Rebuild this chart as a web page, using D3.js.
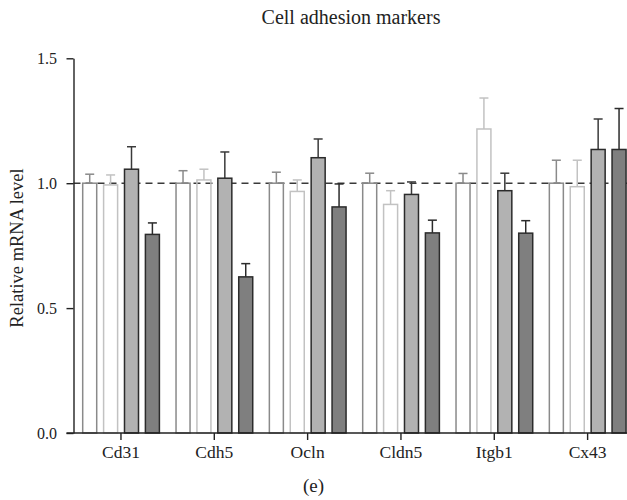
<!DOCTYPE html>
<html>
<head>
<meta charset="utf-8">
<script src="https://cdn.jsdelivr.net/npm/d3@7"></script>
<style>
  html, body { margin: 0; padding: 0; background: #fff; }
</style>
</head>
<body>
<svg id="chart" width="627" height="500"></svg>
<script>
// Genes measured
const categories = ["Cd31", "Cdh5", "Ocln", "Cldn5", "Itgb1", "Cx43"];
// Four experimental groups, one bar each per gene
const seriesNames = ["g1", "g2", "g3", "g4"];
// Mean relative mRNA level
const g1Values = [1.00, 1.00, 1.00, 1.00, 1.00, 1.00];
const g2Values = [0.993, 1.013, 0.967, 0.915, 1.217, 0.986];
const g3Values = [1.056, 1.020, 1.102, 0.955, 0.970, 1.135];
const g4Values = [0.795, 0.625, 0.905, 0.801, 0.800, 1.135];
// Upper error (SEM)
const g1Errors = [0.036, 0.050, 0.044, 0.040, 0.039, 0.092];
const g2Errors = [0.040, 0.043, 0.046, 0.055, 0.124, 0.106];
const g3Errors = [0.090, 0.105, 0.075, 0.050, 0.070, 0.122];
const g4Errors = [0.046, 0.053, 0.092, 0.051, 0.050, 0.164];
const yTicks = [0, 0.5, 1.0, 1.5];

const values = [g1Values, g2Values, g3Values, g4Values];
const errors = [g1Errors, g2Errors, g3Errors, g4Errors];

const FONT = "'Liberation Serif', 'Times New Roman', 'DejaVu Serif', serif";

const styles = [
  { fill: "none",    stroke: "#8a8a8a", err: "#8a8a8a" },
  { fill: "none",    stroke: "#c2c2c2", err: "#c2c2c2" },
  { fill: "#b2b2b2", stroke: "#2b2b2b", err: "#3a3a3a" },
  { fill: "#7f7f7f", stroke: "#2b2b2b", err: "#2b2b2b" }
];

const svg = d3.select("#chart");
const axisX = 73.5, axisY = 433;

const x = d3.scaleBand().domain(categories).range([axisX + 0.8, axisX + 0.8 + 93.33 * 6]);
const xi = d3.scaleBand().domain(seriesNames).range([8.4, 85.1]).paddingInner(0.33);
const y = d3.scaleLinear().domain([0, 1.5]).range([axisY, 58.3]);

// Reference line at 1.0
svg.append("line")
  .attr("x1", axisX).attr("x2", 627)
  .attr("y1", y(1)).attr("y2", y(1))
  .attr("stroke", "#3a3a3a").attr("stroke-width", 1.6)
  .attr("stroke-dasharray", "7,5");

const rows = [];
categories.forEach((c, ci) => {
  seriesNames.forEach((s, si) => {
    rows.push({ cat: c, s, si, v: values[si][ci], e: errors[si][ci] });
  });
});

const g = svg.append("g");

// Error bars (upper only)
g.selectAll("line.err").data(rows).join("line")
  .attr("class", "err")
  .attr("x1", d => x(d.cat) + xi(d.s) + xi.bandwidth() / 2)
  .attr("x2", d => x(d.cat) + xi(d.s) + xi.bandwidth() / 2)
  .attr("y1", d => y(d.v))
  .attr("y2", d => y(d.v + d.e))
  .attr("stroke", d => styles[d.si].err).attr("stroke-width", 1.5);

g.selectAll("line.cap").data(rows).join("line")
  .attr("class", "cap")
  .attr("x1", d => x(d.cat) + xi(d.s) + xi.bandwidth() / 2 - 4.5)
  .attr("x2", d => x(d.cat) + xi(d.s) + xi.bandwidth() / 2 + 4.5)
  .attr("y1", d => y(d.v + d.e))
  .attr("y2", d => y(d.v + d.e))
  .attr("stroke", d => styles[d.si].err).attr("stroke-width", 1.5);

// Bars
g.selectAll("rect").data(rows).join("rect")
  .attr("x", d => x(d.cat) + xi(d.s))
  .attr("width", xi.bandwidth())
  .attr("y", d => y(d.v))
  .attr("height", d => y(0) - y(d.v))
  .attr("fill", d => styles[d.si].fill)
  .attr("stroke", d => styles[d.si].stroke)
  .attr("stroke-width", 1.5);

// Y axis
const yAxis = svg.append("g")
  .attr("transform", `translate(${axisX},0)`)
  .call(d3.axisLeft(y).tickValues(yTicks).tickFormat(d3.format(".1f")).tickSize(7).tickSizeOuter(0));
yAxis.attr("font-family", FONT).attr("font-size", null);
yAxis.select(".domain").attr("stroke", "#222").attr("stroke-width", 1.4);
yAxis.selectAll(".tick line").attr("stroke", "#222").attr("stroke-width", 1.4);
yAxis.selectAll(".tick text").attr("font-size", 16).attr("fill", "#222")
  .attr("x", -16.5).attr("dy", "0.34em");

// X axis
const xAxis = svg.append("g")
  .attr("transform", `translate(0,${axisY})`)
  .call(d3.axisBottom(x).tickSize(7).tickSizeOuter(0));
xAxis.attr("font-family", FONT).attr("font-size", null);
xAxis.select(".domain").remove();
xAxis.append("line").attr("x1", axisX - 7).attr("x2", 627).attr("y1", 0).attr("y2", 0)
  .attr("stroke", "#222").attr("stroke-width", 1.4);
xAxis.selectAll(".tick line").attr("stroke", "#222").attr("stroke-width", 1.4);
xAxis.selectAll(".tick text").attr("font-size", 17.5).attr("fill", "#222")
  .attr("y", 25).attr("dy", null);

// Titles
svg.append("text").attr("x", 351).attr("y", 24).attr("text-anchor", "middle")
  .attr("font-family", FONT).attr("fill", "#222")
  .attr("font-size", 20).text("Cell adhesion markers");
svg.append("text").attr("transform", "translate(22.5,248) rotate(-90)")
  .attr("font-family", FONT).attr("fill", "#222")
  .attr("text-anchor", "middle").attr("font-size", 18.5).text("Relative mRNA level");
svg.append("text").attr("x", 313.5).attr("y", 492).attr("text-anchor", "middle")
  .attr("font-family", FONT).attr("fill", "#222")
  .attr("font-size", 19).text("(e)");
</script>
</body>
</html>
